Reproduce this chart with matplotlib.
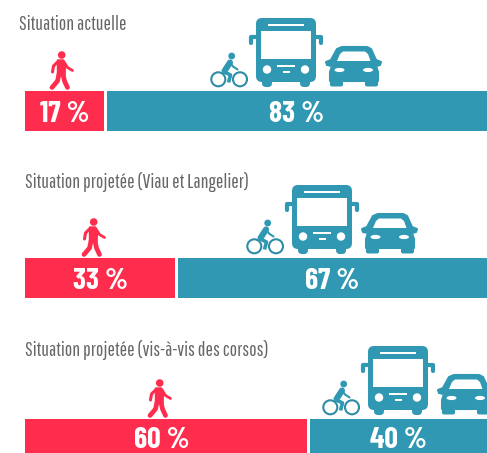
import matplotlib
matplotlib.use('Agg')
import matplotlib.pyplot as plt
from matplotlib.patches import Circle, Ellipse, FancyBboxPatch, Polygon, Rectangle
from matplotlib.transforms import Affine2D

# bar chart values
titles = ['Situation actuelle', 'Situation projetée (Viau et Langelier)', 'Situation projetée (vis-à-vis des corsos)']
walk_labels = ['17 %', '33 %', '60 %']
other_labels = ['83 %', '67 %', '40 %']
# segment widths as they are drawn (a bit different from the printed labels)
walk_width = [17.1, 32.5, 61.0]
other_width = [82.25, 66.85, 38.35]

RED = '#FF2D4D'
TEAL = '#3098B2'
W, H = 487, 453
GAP = 0.65

TITLE_FONT = ['Pathway Gothic One', 'Liberation Sans', 'DejaVu Sans']
LABEL_FONT = ['Barlow Condensed', 'Liberation Sans', 'DejaVu Sans']

fig = plt.figure(figsize=(W / 100, H / 100), dpi=100)

# axes for the bars, x in percent, y in pixels from the top
ax = fig.add_axes([0, 0, 1, 1])
ax.set_xlim(-25 / 4.62, 100)
ax.set_ylim(H, 0)
ax.axis('off')

# axes in pixels for icons and titles
px = fig.add_axes([0, 0, 1, 1])
px.set_xlim(0, W)
px.set_ylim(H, 0)
px.axis('off')
px.patch.set_alpha(0)

bar_top = [91, 258, 419]
label_base = [122, 289, 448]
walk_label_dx = [0, 0, -0.9]
title_pos = [(19, 30), (25, 188), (25, 356)]
walker_dx = [0, 32, 98]
other_dx = [0, 36, 112]

def walker(dx, dy):
    tr = Affine2D().translate(dx, dy) + px.transData
    px.add_patch(Circle((61.7, 55), 3.8, color=RED, lw=0, transform=tr))
    body = [(57.5, 60), (63.5, 60), (65.5, 64), (65, 75), (57.5, 75)]
    px.add_patch(Polygon(body, closed=True, fc=RED, ec=RED, lw=1, joinstyle='round', transform=tr))
    limbs = [[(57.5, 62), (53.5, 66), (52.5, 72)],
             [(64, 62), (67.5, 67.5), (72.5, 70.5)],
             [(59, 74), (57.5, 81), (52, 87.5)],
             [(63, 74), (64.5, 81), (67.5, 87.5)]]
    widths = [2.2, 2.0, 3.4, 3.4]
    for pts, w in zip(limbs, widths):
        px.plot([p[0] for p in pts], [p[1] for p in pts], color=RED, lw=w, solid_capstyle='round',
                solid_joinstyle='round', transform=tr)

def bike(dx, dy):
    tr = Affine2D().translate(dx, dy) + px.transData
    for cx in (218.3, 240):
        px.add_patch(Circle((cx, 79.3), 7.0, fc='none', ec='#2E8CA6', lw=1.5, transform=tr))
    px.add_patch(Circle((231.7, 56), 3.4, color=TEAL, lw=0, transform=tr))
    px.plot([230, 224.5], [62.5, 71], color=TEAL, lw=4.4, solid_capstyle='round', transform=tr)
    px.plot([230, 233, 237.5], [62.5, 66.5, 69.5], color=TEAL, lw=1.5, solid_capstyle='round', transform=tr)
    px.plot([224.5, 230.5, 228.5], [72, 75, 82.5], color=TEAL, lw=2.6, solid_capstyle='butt',
            solid_joinstyle='round', transform=tr)

def bus(dx, dy):
    tr = Affine2D().translate(dx, dy) + px.transData
    # wheels and body
    for x in (262, 300):
        px.add_patch(FancyBboxPatch((x, 76), 10, 11, boxstyle='round,pad=0,rounding_size=4', color=TEAL, lw=0, transform=tr))
    px.add_patch(FancyBboxPatch((256, 18), 60, 64, boxstyle='round,pad=0,rounding_size=6', color=TEAL, lw=0, transform=tr))
    # mirrors
    px.plot([256, 251, 251], [36.5, 36.5, 43], color=TEAL, lw=3, solid_capstyle='round', solid_joinstyle='round', transform=tr)
    px.plot([316, 321, 321], [36.5, 36.5, 43], color=TEAL, lw=3, solid_capstyle='round', solid_joinstyle='round', transform=tr)
    # windows and details
    px.add_patch(Rectangle((261, 31), 50, 28, color='white', lw=0, transform=tr))
    px.add_patch(Rectangle((268, 23.5), 36, 2.4, color='white', lw=0, transform=tr))
    px.add_patch(Rectangle((277, 65), 18, 2, color='white', lw=0, transform=tr))
    px.add_patch(Rectangle((283, 71), 7, 2, color='white', lw=0, transform=tr))
    for x in (267, 305):
        px.add_patch(Circle((x, 69.5), 4.2, color='white', lw=0, transform=tr))

def car(dx, dy):
    tr = Affine2D().translate(dx, dy) + px.transData
    body = [(342, 47), (367, 47), (371, 49), (376, 60), (381, 62), (380, 65), (376, 66), (378, 72),
            (378, 81), (330, 81), (330, 72), (332, 66), (327, 65), (326, 62), (331, 60), (337, 49)]
    px.add_patch(Polygon(body, closed=True, fc=TEAL, ec=TEAL, lw=1.5, joinstyle='round', transform=tr))
    for x in (330, 365):
        px.add_patch(FancyBboxPatch((x, 78), 13, 8.5, boxstyle='round,pad=0,rounding_size=2', color=TEAL, lw=0, transform=tr))
    shield = [(343, 51.5), (365, 51.5), (368, 54), (370.5, 61), (337, 61), (340, 54)]
    px.add_patch(Polygon(shield, closed=True, color='white', lw=0, transform=tr))
    for x in (339.5, 368):
        px.add_patch(Ellipse((x, 70), 10, 4.2, color='white', lw=0, transform=tr))

for i in range(len(titles)):
    top = bar_top[i]
    ax.barh(top + 20, walk_width[i], height=40, left=0, color=RED, lw=0)
    other_left = walk_width[i] + GAP
    ax.barh(top + 20, other_width[i], height=40, left=other_left, color=TEAL, lw=0)
    ax.text(walk_width[i] / 2 + walk_label_dx[i], label_base[i], walk_labels[i], color='white', fontsize=21.5,
            fontweight='bold', family=LABEL_FONT, ha='center', va='baseline')
    ax.text(other_left + other_width[i] / 2, label_base[i], other_labels[i], color='white', fontsize=21.5,
            fontweight='bold', family=LABEL_FONT, ha='center', va='baseline')
    px.text(title_pos[i][0], title_pos[i][1], titles[i], color='#666666', fontsize=14.1, family=TITLE_FONT,
            ha='left', va='baseline')
    dy = top - bar_top[0]
    walker(walker_dx[i], dy)
    bike(other_dx[i], dy)
    bus(other_dx[i], dy)
    car(other_dx[i], dy)

px.set_xlim(0, W)
px.set_ylim(H, 0)
fig.savefig('out.png', dpi=100)
